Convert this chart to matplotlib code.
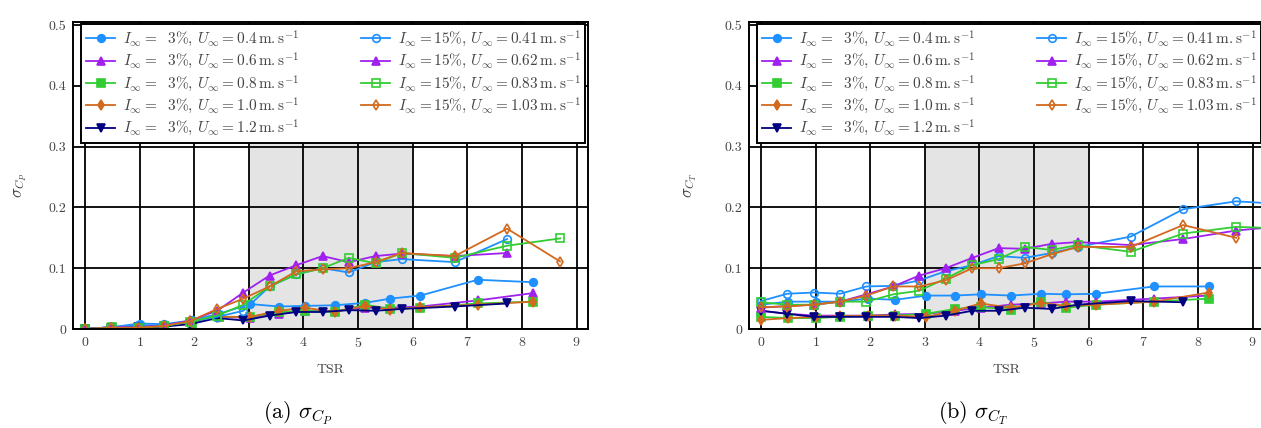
import matplotlib
matplotlib.use('Agg')
import matplotlib.pyplot as plt

plt.rcParams['font.family'] = 'serif'
plt.rcParams['font.serif'] = ['cmr10', 'DejaVu Serif']
plt.rcParams['mathtext.fontset'] = 'cm'
plt.rcParams['axes.formatter.use_mathtext'] = True

# TSR grids
tsr_3 = [0, 0.5, 1.0, 1.45, 1.95, 2.45, 3.03, 3.55, 4.02, 4.57, 5.13, 5.59, 6.14, 7.19, 8.2]
tsr_3_hi = [0, 0.48, 0.97, 1.45, 1.93, 2.42, 2.9, 3.38, 3.87, 4.35, 4.83, 5.32, 5.8, 6.77, 7.73]
tsr_15 = [0, 0.48, 0.97, 1.45, 1.93, 2.42, 2.9, 3.38, 3.87, 4.35, 4.83, 5.32, 5.8, 6.77, 7.73, 8.7, 9.67]

# sigma_CP, panel (a)
cp_3_04 = [0, 0.003, 0.009, 0.008, 0.014, 0.025, 0.041, 0.037, 0.038, 0.039, 0.043, 0.05, 0.055, 0.081, 0.077]
cp_3_06 = [0, 0.003, 0.003, 0.005, 0.01, 0.02, 0.018, 0.025, 0.03, 0.03, 0.035, 0.035, 0.037, 0.047, 0.059]
cp_3_08 = [0, 0.003, 0.002, 0.005, 0.01, 0.02, 0.02, 0.028, 0.03, 0.028, 0.04, 0.033, 0.035, 0.042, 0.045]
cp_3_10 = [0, 0.002, 0.002, 0.005, 0.01, 0.02, 0.02, 0.03, 0.035, 0.028, 0.038, 0.032, 0.036, 0.04, 0.045]
cp_3_12 = [0, 0.002, 0.003, 0.004, 0.008, 0.018, 0.014, 0.022, 0.028, 0.028, 0.031, 0.03, 0.033, 0.037, 0.042]
cp_15_041 = [0, 0.003, 0.006, 0.006, 0.012, 0.02, 0.03, 0.07, 0.09, 0.1, 0.093, 0.11, 0.115, 0.11, 0.148]
cp_15_062 = [0, 0.003, 0.003, 0.006, 0.014, 0.03, 0.06, 0.088, 0.105, 0.12, 0.11, 0.12, 0.124, 0.12, 0.125]
cp_15_083 = [0, 0.002, 0.002, 0.005, 0.012, 0.022, 0.04, 0.07, 0.09, 0.1, 0.117, 0.108, 0.125, 0.117, 0.137, 0.149]
cp_15_103 = [0, 0.002, 0.002, 0.005, 0.013, 0.033, 0.05, 0.07, 0.095, 0.098, 0.1, 0.11, 0.125, 0.12, 0.165, 0.111]

# sigma_CT, panel (b)
ct_3_04 = [0.04, 0.045, 0.045, 0.045, 0.05, 0.048, 0.055, 0.055, 0.057, 0.055, 0.058, 0.057, 0.058, 0.07, 0.07]
ct_3_06 = [0.03, 0.025, 0.022, 0.022, 0.022, 0.024, 0.025, 0.03, 0.035, 0.04, 0.042, 0.045, 0.045, 0.05, 0.055]
ct_3_08 = [0.02, 0.018, 0.018, 0.02, 0.022, 0.022, 0.025, 0.033, 0.036, 0.032, 0.045, 0.035, 0.04, 0.045, 0.05]
ct_3_10 = [0.015, 0.018, 0.02, 0.021, 0.022, 0.022, 0.02, 0.03, 0.042, 0.035, 0.043, 0.038, 0.04, 0.045, 0.06]
ct_3_12 = [0.03, 0.025, 0.02, 0.02, 0.02, 0.02, 0.018, 0.022, 0.03, 0.03, 0.035, 0.033, 0.04, 0.046, 0.044]
ct_15_041 = [0.046, 0.058, 0.06, 0.058, 0.07, 0.071, 0.08, 0.095, 0.105, 0.12, 0.117, 0.125, 0.135, 0.152, 0.197, 0.21, 0.205]
ct_15_062 = [0.035, 0.038, 0.04, 0.045, 0.057, 0.07, 0.088, 0.1, 0.117, 0.133, 0.132, 0.14, 0.143, 0.138, 0.148, 0.162, 0.17]
ct_15_083 = [0.044, 0.04, 0.04, 0.045, 0.045, 0.057, 0.063, 0.083, 0.105, 0.115, 0.135, 0.13, 0.138, 0.127, 0.157, 0.168, 0.165]
ct_15_103 = [0.036, 0.037, 0.04, 0.045, 0.055, 0.07, 0.07, 0.08, 0.1, 0.1, 0.108, 0.123, 0.135, 0.135, 0.171, 0.15]

labels = [r'$I_\infty =\ \ 3\%,\, U_\infty = 0.4\,\mathrm{m.s^{-1}}$',
          r'$I_\infty =\ \ 3\%,\, U_\infty = 0.6\,\mathrm{m.s^{-1}}$',
          r'$I_\infty =\ \ 3\%,\, U_\infty = 0.8\,\mathrm{m.s^{-1}}$',
          r'$I_\infty =\ \ 3\%,\, U_\infty = 1.0\,\mathrm{m.s^{-1}}$',
          r'$I_\infty =\ \ 3\%,\, U_\infty = 1.2\,\mathrm{m.s^{-1}}$',
          r'$I_\infty = 15\%,\, U_\infty = 0.41\,\mathrm{m.s^{-1}}$',
          r'$I_\infty = 15\%,\, U_\infty = 0.62\,\mathrm{m.s^{-1}}$',
          r'$I_\infty = 15\%,\, U_\infty = 0.83\,\mathrm{m.s^{-1}}$',
          r'$I_\infty = 15\%,\, U_\infty = 1.03\,\mathrm{m.s^{-1}}$']
xticks = [0, 1, 2, 3, 4, 5, 6, 7, 8, 9]
yticks = [0, 0.1, 0.2, 0.3, 0.4, 0.5]
ytick_labels = ['0', '0.1', '0.2', '0.3', '0.4', '0.5']

colors = ['#1e90ff', '#a020f0', '#32cd32', '#d2691e', '#000080',
          '#1e90ff', '#a020f0', '#32cd32', '#d2691e']
markers = ['o', '^', 's', 'd', 'v', 'o', '^', 's', 'd']
filled = [True, True, True, True, True, False, True, False, False]

panels = [
    ([tsr_3, tsr_3, tsr_3, tsr_3, tsr_3_hi, tsr_15, tsr_15, tsr_15, tsr_15],
     [cp_3_04, cp_3_06, cp_3_08, cp_3_10, cp_3_12, cp_15_041, cp_15_062, cp_15_083, cp_15_103],
     r'$\sigma_{C_P}$', r'(a) $\sigma_{C_P}$'),
    ([tsr_3, tsr_3, tsr_3, tsr_3, tsr_3_hi, tsr_15, tsr_15, tsr_15, tsr_15],
     [ct_3_04, ct_3_06, ct_3_08, ct_3_10, ct_3_12, ct_15_041, ct_15_062, ct_15_083, ct_15_103],
     r'$\sigma_{C_T}$', r'(b) $\sigma_{C_T}$'),
]

fig = plt.figure(figsize=(12.61, 4.28), dpi=100)
W, H = 1261, 428
ax_left = [73, 749]
cap_x = [298, 973]
ylab_x = [-0.085, -0.097]
txt = '#444444'

for i, (xs, ys, ylab, cap) in enumerate(panels):
    ax = fig.add_axes([ax_left[i] / W, 1 - 329 / H, 515 / W, 307 / H])
    ax.axvspan(3, 6, color='#e4e4e4', zorder=0, lw=0)
    for j in range(9):
        n = len(ys[j])
        ax.plot(xs[j][:n], ys[j], color=colors[j], marker=markers[j], ms=5.5,
                mfc=colors[j] if filled[j] else 'none', mec=colors[j], mew=1.2,
                lw=1.3, label=labels[j], zorder=3)
    ax.set_xlim(-0.22, 9.21)
    ax.set_ylim(0, 0.505)
    ax.set_xticks(xticks)
    ax.set_yticks(yticks)
    ax.set_yticklabels(ytick_labels)
    ax.tick_params(length=0, labelsize=10, colors=txt, pad=5)
    ax.grid(True, color='black', lw=1.3, zorder=1)
    ax.set_axisbelow(True)
    for s in ax.spines.values():
        s.set_linewidth(1.4)
        s.set_zorder(4)
    ax.set_xlabel('TSR', fontsize=10, color=txt)
    ax.xaxis.set_label_coords(0.5, -0.115)
    ax.set_ylabel(ylab, fontsize=12, color=txt)
    ax.yaxis.set_label_coords(ylab_x[i], 0.47)
    leg = ax.legend(ncol=2, loc='upper left', bbox_to_anchor=(0.0165, 0.622, 0.978, 0.371),
                    mode='expand', borderaxespad=0, fontsize=11, labelcolor=txt,
                    fancybox=False, framealpha=1, edgecolor='black',
                    handlelength=1.9, handletextpad=0.5, labelspacing=0.12,
                    borderpad=0.3, columnspacing=1.0)
    leg.get_frame().set_linewidth(1.4)
    leg.set_zorder(5)
    fig.text(cap_x[i] / W, 1 - 413 / H, cap, fontsize=16, ha='center', va='center')

fig.savefig('out.png', dpi=100)
